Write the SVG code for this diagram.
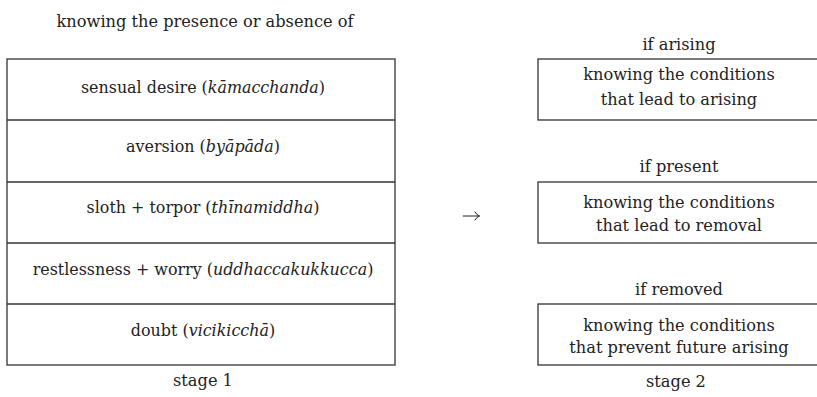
<svg xmlns="http://www.w3.org/2000/svg" width="817" height="397" viewBox="0 0 817 397">
<style>
text{font-family:'DejaVu Serif','Liberation Serif','Times New Roman',serif;font-size:16.2px;fill:#222;text-anchor:middle}
.row{font-size:15.9px}
.box{fill:none;stroke:#333;stroke-width:1.3}
.it{font-style:italic}
.arr{fill:none;stroke:#222;stroke-width:1;stroke-linecap:round}
</style>
<rect width="817" height="397" fill="#fff"/>
<text x="205" y="27">knowing the presence or absence of</text>
<g id="stage1">
<rect class="box" x="7" y="59" width="388" height="306"/>
<line class="box" x1="7" y1="120" x2="395" y2="120"/>
<line class="box" x1="7" y1="182" x2="395" y2="182"/>
<line class="box" x1="7" y1="243" x2="395" y2="243"/>
<line class="box" x1="7" y1="304" x2="395" y2="304"/>
<text class="row" x="203" y="93">sensual desire (<tspan class="it">kāmacchanda</tspan>)</text>
<text class="row" x="203" y="152">aversion (<tspan class="it">byāpāda</tspan>)</text>
<text class="row" x="203" y="213">sloth + torpor (<tspan class="it">thīnamiddha</tspan>)</text>
<text class="row" x="203" y="275">restlessness + worry (<tspan class="it">uddhaccakukkucca</tspan>)</text>
<text class="row" x="203" y="336">doubt (<tspan class="it">vicikicchā</tspan>)</text>
<text x="203" y="386">stage 1</text>
</g>
<g id="connectors">
<path class="arr" d="M463,216 H479 M475,212 Q476.5,215 479.5,216 Q476.5,217 475,220"/>
</g>
<g id="arising">
<text x="679" y="50">if arising</text>
<rect class="box" x="538" y="59" width="285" height="61"/>
<text x="679" y="80">knowing the conditions</text>
<text x="679" y="105">that lead to arising</text>
</g>
<g id="present">
<text x="679" y="172">if present</text>
<rect class="box" x="538" y="182" width="285" height="61"/>
<text x="679" y="208">knowing the conditions</text>
<text x="679" y="231">that lead to removal</text>
</g>
<g id="removed">
<text x="679" y="295">if removed</text>
<rect class="box" x="538" y="304" width="285" height="61"/>
<text x="679" y="331">knowing the conditions</text>
<text x="679" y="353">that prevent future arising</text>
</g>
<text x="676" y="387">stage 2</text>
</svg>
